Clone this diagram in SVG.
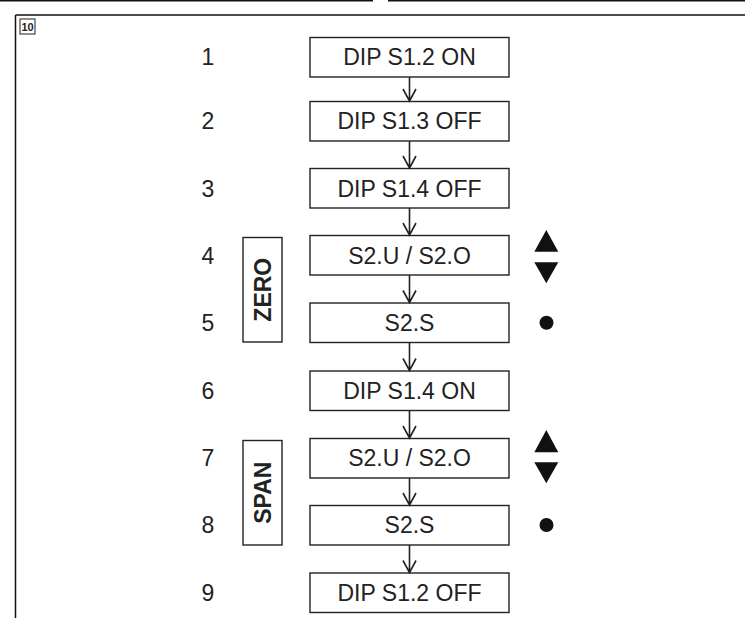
<svg xmlns="http://www.w3.org/2000/svg" width="745" height="618" viewBox="0 0 745 618">
<style>
.box{fill:#fff;stroke:#222;stroke-width:1.4}
.t{font-family:"Liberation Sans",Arial,sans-serif;font-size:23px;fill:#222;text-anchor:middle}
.b{font-family:"Liberation Sans",Arial,sans-serif;font-size:23px;font-weight:bold;fill:#222;text-anchor:middle}
.ln{stroke:#111;stroke-width:1.5;fill:none}
.con{stroke:#222;stroke-width:1.6;fill:none}
.sym{fill:#111}
</style>
<rect width="745" height="618" fill="#fff"/>
<g id="frame">
<line class="ln" x1="0" y1="0.8" x2="373" y2="0.8"/>
<line class="ln" x1="388" y1="0.8" x2="745" y2="0.8"/>
<line class="ln" x1="15.5" y1="15" x2="745" y2="15"/>
<line class="ln" x1="15.5" y1="15" x2="15.5" y2="618"/>
<rect x="20" y="19" width="15" height="15" fill="#fff" stroke="#444" stroke-width="1.2"/>
<text x="27.5" y="31" style="font-family:'Liberation Sans',Arial,sans-serif;font-size:11px;font-weight:bold;fill:#222;text-anchor:middle">10</text>
</g>
<g id="numbers">
<text class="t" x="208" y="65">1</text>
<text class="t" x="208" y="129">2</text>
<text class="t" x="208" y="196.5">3</text>
<text class="t" x="208" y="263.5">4</text>
<text class="t" x="208" y="330.5">5</text>
<text class="t" x="208" y="398.5">6</text>
<text class="t" x="208" y="466">7</text>
<text class="t" x="208" y="533">8</text>
<text class="t" x="208" y="600.5">9</text>
</g>
<g id="n1"><rect class="box" x="310" y="37.5" width="199" height="39.5"/><text class="t" x="409.5" y="65.3">DIP S1.2 ON</text></g>
<g id="n2"><rect class="box" x="310" y="101.5" width="199" height="39.5"/><text class="t" x="409.5" y="129.3">DIP S1.3 OFF</text></g>
<g id="n3"><rect class="box" x="310" y="168.5" width="199" height="39.5"/><text class="t" x="409.5" y="196.5">DIP S1.4 OFF</text></g>
<g id="n4"><rect class="box" x="310" y="235.5" width="199" height="39.5"/><text class="t" x="409.5" y="263.5">S2.U / S2.O</text></g>
<g id="n5"><rect class="box" x="310" y="303" width="199" height="39.5"/><text class="t" x="409.5" y="330.8">S2.S</text></g>
<g id="n6"><rect class="box" x="310" y="371" width="199" height="39.5"/><text class="t" x="409.5" y="398.8">DIP S1.4 ON</text></g>
<g id="n7"><rect class="box" x="310" y="438.5" width="199" height="39.5"/><text class="t" x="409.5" y="466.3">S2.U / S2.O</text></g>
<g id="n8"><rect class="box" x="310" y="505.5" width="199" height="39.5"/><text class="t" x="409.5" y="533.3">S2.S</text></g>
<g id="n9"><rect class="box" x="310" y="573" width="199" height="39.5"/><text class="t" x="409.5" y="600.8">DIP S1.2 OFF</text></g>
<g id="zero"><rect class="box" x="243" y="237.5" width="39" height="104.5"/><text class="b" transform="translate(262.5,289.7) rotate(-90)" x="0" y="8.3">ZERO</text></g>
<g id="span"><rect class="box" x="243" y="440.5" width="39" height="104.5"/><text class="b" transform="translate(262.5,492.7) rotate(-90)" x="0" y="8.3">SPAN</text></g>
<g id="symbols">
<polygon class="sym" points="546.3,230 534.3,251.7 558.3,251.7"/>
<polygon class="sym" points="534.3,262.3 558.3,262.3 546.3,283.3"/>
<circle class="sym" cx="546.5" cy="322.7" r="7"/>
<polygon class="sym" points="546.3,430 534.3,452.3 558.3,452.3"/>
<polygon class="sym" points="534.3,462.3 558.3,462.3 546.3,483.3"/>
<circle class="sym" cx="546.5" cy="525" r="7"/>
</g>
<g id="connectors">
<path class="con" d="M409.5,77V101M403,89L409.5,101L416,89"/>
<path class="con" d="M409.5,141V168M403,156L409.5,168L416,156"/>
<path class="con" d="M409.5,208V235M403,223L409.5,235L416,223"/>
<path class="con" d="M409.5,275V302.5M403,290.5L409.5,302.5L416,290.5"/>
<path class="con" d="M409.5,342.5V370.5M403,358.5L409.5,370.5L416,358.5"/>
<path class="con" d="M409.5,410.5V438M403,426L409.5,438L416,426"/>
<path class="con" d="M409.5,478V505M403,493L409.5,505L416,493"/>
<path class="con" d="M409.5,545V572.5M403,560.5L409.5,572.5L416,560.5"/>
</g>
</svg>
